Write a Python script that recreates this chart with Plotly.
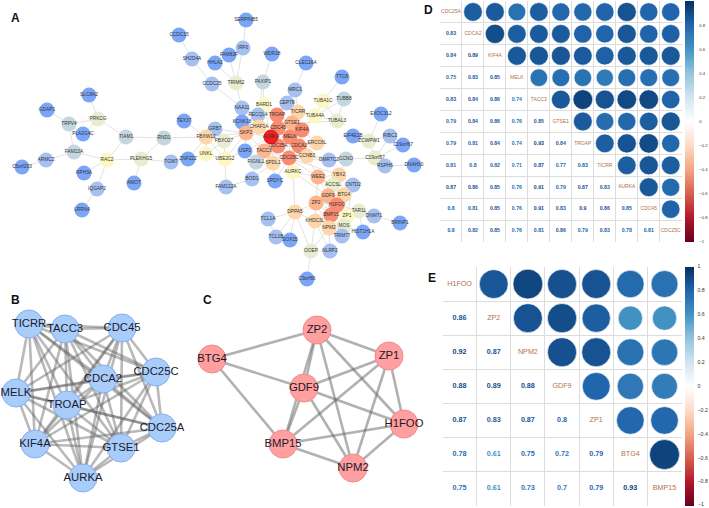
import plotly.graph_objects as go

# ---------- Panel A network ----------
a_names = ["CCDC15","SH2D4A","HHLA2","CCDC25","SERPINB5","IRF6","FAM83F","TRIM62","WDR38","PAXIP1","CLEC16A","MRC1","TTC8","TUBB8","TUBA1C","TUBA4A","TUBAL3","EXOC3L2","RIBC2","EIF4E1B","ZCWPW1","C19orf67","CEP78","NAA11","BARD1","RECQL4","KCNK18","GRB7","FBXW12","FBXO27","SKP2","CHAF1A","TROAP","TICRR","GTSE1","CDC45","KIF4A","ERCC6L","MELK","CDC25A","CDCA2","TACC3","CDC25C","CCNB3","AURKA","USP2","UNKL","UBE2G2","FIGNL1","SPDL1","ZNF222","FAM122A","BOD1","SPDYC","AURKC","WEE2","DMRTC2","CCNO","C19orf57","RSPH6","DNAH10","YBX2","ACCSL","CNTD2","BTG4","GDF9","ZP2","H1FOO","TAR1L","BMP15","ZP1","DNMT1","BRINP1","DPPA5","KHDC3L","MOS","NPM2","HIST1H1A","TRIM77","TCL1A","TCL1B","SOX15","OOEP","NLRP2","C9orf66","SLC8A2","GDAP1","TRPV4","PRKCG","PLA2G4C","TIAM1","RND1","TEX37","FAM13A","ARMC2","C6orf203","RAC2","PLEKHG5","TGM7","RPH3A","AMOT","IQGAP2","LRRN4"]
a_x = [179,192,215,212,246,243,229,236,272,263,306,295,342,344,323,315,337,381,390,353,369,403,287,242,264,258,242,215,206,224,246,259,277,298,292,278,302,317,290,278,299,264,289,307,271,245,206,225,256,273,188,226,252,275,293,318,329,346,375,385,414,339,333,353,344,328,316,337,359,331,347,374,400,295,315,344,329,363,342,268,276,290,311,330,307,89,47,69,98,83,126,164,184,74,46,22,107,141,171,84,134,97,82]
a_y = [35,59,63,84,20,48,55,83,54,82,63,90,77,99,101,116,121,114,136,136,141,145,103,108,105,115,122,129,137,141,133,127,115,112,123,128,130,143,137,146,146,151,158,156,137,151,154,159,162,163,159,187,179,181,172,177,160,159,158,166,165,175,185,185,195,196,203,205,211,215,216,216,223,212,221,226,228,232,236,219,237,240,251,251,279,95,110,124,119,134,137,138,121,152,160,167,160,159,162,173,183,189,210]
a_degree = [0,1,0,1,0,1,0,3,0,2,0,1,0,2,4,4,3,0,1,0,3,0,1,1,4,1,0,1,5,3,6,5,7,5,6,7,7,5,7,7,7,6,7,5,8,0,4,4,2,5,0,1,1,0,4,6,1,2,3,1,0,5,3,1,5,6,6,7,3,7,4,1,0,5,5,3,5,0,1,1,1,0,3,1,0,0,0,2,3,0,2,2,0,2,1,0,4,3,1,0,0,1,0]
a_edges = """CCDC15-SH2D4A SH2D4A-CCDC25 CCDC25-NAA11 HHLA2-TRIM62 FAM83F-TRIM62 IRF6-TRIM62 SERPINB5-IRF6 TRIM62-NAA11 WDR38-PAXIP1 PAXIP1-BARD1 PAXIP1-RECQL4
CLEC16A-MRC1 MRC1-TROAP MRC1-TICRR TTC8-TUBA1C TUBB8-TUBA1C TUBB8-TUBAL3 TUBB8-TUBA4A TUBA1C-TUBA4A TUBA1C-TUBAL3 TUBA4A-TUBAL3 TUBA4A-KIF4A TUBA4A-TICRR TUBAL3-GTSE1
EXOC3L2-ZCWPW1 RIBC2-ZCWPW1 EIF4E1B-ZCWPW1 ZCWPW1-C19orf57 C19orf67-C19orf57 RIBC2-C19orf57 C19orf57-RSPH6 RSPH6-DNAH10 C19orf57-CCNO CCNO-DMRTC2 CCNO-CCNB3 DMRTC2-CDC25C
CEP78-TROAP NAA11-RECQL4 NAA11-KCNK18 BARD1-AURKA BARD1-CHAF1A RECQL4-AURKA KCNK18-SKP2 CHAF1A-AURKA SKP2-AURKA SKP2-FBXW12 SKP2-FBXO27 SKP2-UBE2G2 SKP2-USP2 SKP2-TACC3 SKP2-GRB7
GRB7-FBXW12 GRB7-FBXO27 FBXW12-UNKL FBXW12-FBXO27 FBXW12-UBE2G2 FBXW12-ZNF222 FBXO27-UNKL FBXO27-UBE2G2 UNKL-UBE2G2 UNKL-ZNF222 UBE2G2-FAM122A USP2-AURKA USP2-UBE2G2
AURKA-TROAP AURKA-CDC45 AURKA-GTSE1 AURKA-MELK AURKA-CDC25A AURKA-TACC3 AURKA-KIF4A AURKA-CDC25C AURKA-SPDL1 TROAP-CDC45 TROAP-GTSE1 TROAP-MELK TROAP-KIF4A TICRR-GTSE1 TICRR-KIF4A TICRR-CDC45
GTSE1-KIF4A GTSE1-MELK GTSE1-CDC25C CDC45-MELK CDC45-KIF4A CDC45-CDC25A CDC45-CDCA2 KIF4A-MELK KIF4A-CDCA2 KIF4A-ERCC6L ERCC6L-CDCA2 ERCC6L-CDC25C MELK-CDC25A MELK-CDCA2 MELK-TACC3 MELK-CDC25C CDC25A-CDCA2 CDC25A-TACC3 CDC25A-CDC25C CDCA2-CDC25C CDCA2-CCNB3 TACC3-SPDL1 TACC3-FIGNL1 TACC3-CDC25C CDC25C-CCNB3 CDC25C-SPDL1 CDC25C-AURKC CDC25C-WEE2 CCNB3-WEE2 CCNB3-DMRTC2 SPDL1-FIGNL1 FIGNL1-BOD1 SPDL1-SPDYC CDC25C-SPDYC BOD1-FAM122A BOD1-SPDL1
AURKC-DPPA5 AURKC-WEE2 AURKC-GDF9 WEE2-YBX2 WEE2-GDF9 WEE2-ACCSL WEE2-BTG4 WEE2-ZP2 YBX2-ACCSL YBX2-CNTD2 YBX2-BTG4 YBX2-GDF9 YBX2-H1FOO YBX2-CCNO YBX2-CDC25C ACCSL-GDF9 ACCSL-BTG4 CNTD2-BTG4 CNTD2-ZP1
BTG4-GDF9 BTG4-ZP2 BTG4-H1FOO BTG4-BMP15 GDF9-ZP2 GDF9-H1FOO GDF9-BMP15 GDF9-ZP1 GDF9-NPM2 ZP2-H1FOO ZP2-BMP15 ZP2-ZP1 ZP2-NPM2 H1FOO-BMP15 H1FOO-ZP1 H1FOO-NPM2 H1FOO-TAR1L BMP15-ZP1 BMP15-NPM2 BMP15-KHDC3L ZP1-NPM2 ZP1-TAR1L ZP1-MOS TAR1L-DNMT1 TAR1L-MOS TAR1L-HIST1H1A DNMT1-BRINP1 DNMT1-HIST1H1A
DPPA5-TCL1A DPPA5-TCL1B DPPA5-SOX15 DPPA5-KHDC3L DPPA5-ZP2 DPPA5-OOEP TCL1A-TCL1B TCL1B-SOX15 KHDC3L-ZP2 KHDC3L-NPM2 KHDC3L-OOEP KHDC3L-NLRP2 KHDC3L-MOS MOS-TRIM77 NPM2-NLRP2 NPM2-OOEP NPM2-TRIM77 OOEP-NLRP2 OOEP-C9orf66 MOS-HIST1H1A
SLC8A2-PRKCG GDAP1-TRPV4 TRPV4-PRKCG TRPV4-FAM13A TRPV4-PLA2G4C PLA2G4C-PRKCG PRKCG-TIAM1 TIAM1-RND1 TIAM1-RAC2 FAM13A-RAC2 FAM13A-ARMC2 ARMC2-C6orf203 RAC2-PLEKHG5 RAC2-RPH3A RAC2-IQGAP2 IQGAP2-LRRN4 PLEKHG5-RND1 PLEKHG5-TGM7 PLEKHG5-AMOT RND1-FBXW12 TEX37-FBXW12 TGM7-ZNF222""".split()

# ---------- Panel B network ----------
b_names = ["TICRR","TACC3","CDC45","CDC25C","CDCA2","MELK","TROAP","CDC25A","KIF4A","GTSE1","AURKA"]
b_x = [29,65,122,156,103,16,67,162,35,121,83]
b_y = [324,329,328,372,379,393,405,428,444,448,478]

# ---------- Panel C network ----------
c_names = ["ZP2","ZP1","BTG4","GDF9","H1FOO","BMP15","NPM2"]
c_x = [317,389,212,304,404,283,353]
c_y = [330,356,359,388,424,444,468]
c_edges = "BTG4-ZP2 BTG4-GDF9 BTG4-BMP15 ZP2-ZP1 ZP2-GDF9 ZP2-BMP15 ZP2-NPM2 ZP2-H1FOO ZP1-GDF9 ZP1-BMP15 ZP1-NPM2 ZP1-H1FOO GDF9-H1FOO GDF9-BMP15 GDF9-NPM2 BMP15-H1FOO BMP15-NPM2 H1FOO-NPM2".split()

# ---------- Panel D correlations ----------
d_labels = ["CDC25A","CDCA2","KIF4A","MELK","TACC3","GTSE1","TROAP","TICRR","AURKA","CDC45","CDC25C"]
d_lower = [[0.83],
           [0.84,0.89],
           [0.75,0.83,0.85],
           [0.83,0.84,0.86,0.74],
           [0.79,0.84,0.86,0.76,0.85],
           [0.79,0.81,0.84,0.74,0.93,0.84],
           [0.81,0.8,0.82,0.71,0.87,0.77,0.83],
           [0.87,0.86,0.85,0.76,0.91,0.79,0.87,0.83],
           [0.8,0.81,0.85,0.76,0.91,0.83,0.9,0.86,0.85],
           [0.8,0.82,0.85,0.76,0.81,0.86,0.79,0.83,0.78,0.81]]

# ---------- Panel E correlations ----------
e_labels = ["H1FOO","ZP2","NPM2","GDF9","ZP1","BTG4","BMP15"]
e_lower = [[0.86],
           [0.92,0.87],
           [0.88,0.89,0.88],
           [0.87,0.83,0.87,0.8],
           [0.78,0.61,0.75,0.72,0.79],
           [0.75,0.61,0.73,0.7,0.79,0.93]]

cbar_ticks = [1,0.8,0.6,0.4,0.2,0,-0.2,-0.4,-0.6,-0.8,-1]
panel_letters = ["A","B","C","D","E"]

# ---------- Styling ----------
W, H = 709, 508
RDBU = ["#67001F","#B2182B","#D6604D","#F4A582","#FDDBC7","#FFFFFF","#D1E5F0","#92C5DE","#4393C3","#2166AC","#053061"]
SCALE = [[i/10, c] for i, c in enumerate(RDBU)]
DEGREE_COLORS = ["#7ba6f8","#a6c1f1","#c4d6e0","#e8edd0","#fdf7c4","#fdd6aa","#fdb58f","#f98b70","#f41e1e"]
LETTER_POS = {"A":(15,18),"B":(15,300),"C":(207,300),"D":(428,10),"E":(432,278)}
FONT = "Liberation Sans, Arial, sans-serif"
LABEL_BROWN = "#b4714c"


def hex2rgb(h):
    return tuple(int(h[i:i+2], 16) for i in (1, 3, 5))


def value_color(v):
    t = (v + 1) / 2 * 10
    i = min(int(t), 9)
    f = t - i
    a, b = hex2rgb(RDBU[i]), hex2rgb(RDBU[i+1])
    return "rgb(%d,%d,%d)" % tuple(round(a[k] + (b[k]-a[k])*f) for k in range(3))


fig = go.Figure()


def add_edge(x0, y0, x1, y1, color, width):
    fig.add_trace(go.Scatter(x=[x0, x1], y=[y0, y1], mode="lines", hoverinfo="skip",
                             line=dict(color=color, width=width), showlegend=False))


# Panel A
pos_a = dict(zip(a_names, zip(a_x, a_y)))
ex, ey = [], []
for e in a_edges:
    u, v = e.split("-")
    ex += [pos_a[u][0], pos_a[v][0], None]
    ey += [pos_a[u][1], pos_a[v][1], None]
fig.add_trace(go.Scatter(x=ex, y=ey, mode="lines", hoverinfo="skip", showlegend=False,
                         line=dict(color="#e3e3e3", width=1)))
fig.add_trace(go.Scatter(x=a_x, y=a_y, mode="markers+text", text=a_names, textposition="middle center",
                         hoverinfo="text", showlegend=False,
                         textfont=dict(size=4.8, color="#333333", family=FONT),
                         marker=dict(size=15, opacity=1, color=[DEGREE_COLORS[d] for d in a_degree], line=dict(width=0))))

# Panel B (all pairs are linked)
for i in range(len(b_names)):
    for j in range(i+1, len(b_names)):
        add_edge(b_x[i], b_y[i], b_x[j], b_y[j], "rgba(100,100,100,0.45)", 2.6)
fig.add_trace(go.Scatter(x=b_x, y=b_y, mode="markers+text", text=b_names, textposition="middle center",
                         hoverinfo="text", showlegend=False,
                         textfont=dict(size=11.3, color="#1a1a2a", family=FONT),
                         marker=dict(size=28, color="#a9cdfb", line=dict(color="#86aef0", width=1))))

# Panel C
pos_c = dict(zip(c_names, zip(c_x, c_y)))
for e in c_edges:
    u, v = e.split("-")
    add_edge(pos_c[u][0], pos_c[u][1], pos_c[v][0], pos_c[v][1], "rgba(100,100,100,0.5)", 2.6)
fig.add_trace(go.Scatter(x=c_x, y=c_y, mode="markers+text", text=c_names, textposition="middle center",
                         hoverinfo="text", showlegend=False,
                         textfont=dict(size=11.3, color="#1a1a2a", family=FONT),
                         marker=dict(size=28, color="#ff9f9f", line=dict(color="#f28a8a", width=1))))


def add_corr(labels, lower, xa, ya, dia, val_size, lab_size, cb_x, cb_w, cb_y0, cb_y1, cb_font, cb_gap):
    n = len(labels)
    ux, uy, uv, lx, ly, lt, lc = [], [], [], [], [], [], []
    for r, row in enumerate(lower, start=1):
        for c, v in enumerate(row):
            ux.append(r); uy.append(c); uv.append(v)
            lx.append(c); ly.append(r); lt.append(f"{v:g}"); lc.append(value_color(v))
    fig.add_trace(go.Scatter(x=ux, y=uy, xaxis=xa, yaxis=ya, mode="markers", showlegend=False,
                             customdata=uv, hovertemplate="%{customdata}<extra></extra>",
                             marker=dict(size=[dia*abs(v)**0.5 for v in uv], color=uv, cmin=-1, cmax=1, opacity=1,
                                         colorscale=SCALE, line=dict(color="white", width=0.6),
                                         colorbar=dict(x=cb_x/W, xanchor="left", xpad=0, ypad=0,
                                                       y=1-cb_y1/H, yanchor="bottom", len=(cb_y1-cb_y0)/H,
                                                       lenmode="fraction", thickness=cb_w, thicknessmode="pixels",
                                                       tickvals=cbar_ticks, ticks="outside", ticklen=cb_gap,
                                                       tickcolor="rgba(0,0,0,0)", outlinewidth=0,
                                                       tickfont=dict(size=cb_font, color="#333333", family=FONT)))))
    fig.add_trace(go.Scatter(x=lx, y=ly, xaxis=xa, yaxis=ya, mode="text", text=lt, hoverinfo="skip", showlegend=False,
                             textfont=dict(size=val_size, color=lc, family=FONT, weight="bold")))
    fig.add_trace(go.Scatter(x=list(range(n)), y=list(range(n)), xaxis=xa, yaxis=ya, mode="text", text=labels,
                             hoverinfo="skip", showlegend=False,
                             textfont=dict(size=lab_size, color=LABEL_BROWN, family=FONT)))


add_corr(d_labels, d_lower, "x2", "y2", 20.5, 5.2, 5.0, 685, 9, 1, 242, 4.2, 5)
add_corr(e_labels, e_lower, "x3", "y3", 31.1, 7.2, 7.2, 685, 9, 267, 505.5, 5.2, 3)


def grid_axis(n, dom, rev=False):
    return dict(domain=dom, range=[n-0.5, -0.5] if rev else [-0.5, n-0.5],
                tickvals=[k-0.5 for k in range(n+1)], showticklabels=False, ticks="",
                showgrid=True, gridcolor="#dddddd", gridwidth=1, zeroline=False,
                showline=True, linecolor="#dddddd", linewidth=1, mirror=True)


blank = dict(visible=False, showgrid=False, zeroline=False)
fig.update_layout(
    width=W, height=H, margin=dict(l=0, r=0, t=0, b=0), paper_bgcolor="white", plot_bgcolor="white",
    hovermode="closest", showlegend=False,
    xaxis=dict(domain=[0, 1], range=[0, W], **blank),
    yaxis=dict(domain=[0, 1], range=[H, 0], **blank),
    xaxis2=grid_axis(len(d_labels), [440/W, 681.7/W]),
    yaxis2=grid_axis(len(d_labels), [1-242/H, 1-1/H], rev=True),
    xaxis3=grid_axis(len(e_labels), [442.5/W, 681.6/W]),
    yaxis3=grid_axis(len(e_labels), [1-505.7/H, 1-267/H], rev=True),
)
for L in panel_letters:
    fig.add_annotation(x=LETTER_POS[L][0], y=LETTER_POS[L][1], xref="x", yref="y", text=f"<b>{L}</b>",
                       showarrow=False, font=dict(size=12, color="#111111", family=FONT))
fig.add_annotation(x=697, y=504, xref="x", yref="y", text="\u22121", xanchor="left", showarrow=False,
                   borderpad=0, font=dict(size=5.2, color="#333333", family=FONT))

fig.write_html("out.html", post_script="document.body.style.margin='0';", config={"displayModeBar": False})
